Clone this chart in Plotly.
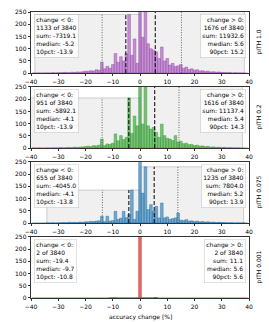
import plotly.graph_objects as go

# ---------------- data ----------------
bin_centers = list(range(-39, 40))

counts_p1 = ([1, 0, 1, 0, 1, 1, 0, 2, 1, 2] +
             [2, 3, 3, 2, 4, 3, 5, 4, 6, 8] +
             [8, 10, 9, 14, 12, 45, 18, 28, 20, 35] +
             [80, 45, 67, 50, 80, 240, 73, 140, 40] +
             [1031] +
             [147, 320, 120, 100, 94, 87, 60, 107, 50, 60] +
             [33, 40, 27, 30, 35, 20, 25, 15, 18, 12] +
             [14, 9, 10, 7, 8, 5, 6, 4, 5, 3] +
             [3, 2, 3, 1, 2, 1, 1, 1, 0])

counts_p2 = ([1, 0, 1, 0, 0, 1, 0, 1, 1, 1] +
             [2, 1, 2, 3, 2, 4, 3, 4, 5, 6] +
             [8, 6, 10, 9, 12, 37, 10, 17, 15, 20] +
             [58, 30, 51, 35, 44, 205, 60, 131, 91] +
             [1273] +
             [98, 300, 91, 78, 85, 64, 44, 98, 51, 40] +
             [37, 31, 51, 25, 28, 18, 20, 14, 15, 10] +
             [12, 8, 9, 6, 7, 4, 5, 3, 4, 2] +
             [3, 1, 2, 1, 1, 1, 0, 1, 0])

counts_p3 = ([0, 0, 0, 0, 0, 1, 0, 1, 0, 1] +
             [1, 2, 1, 3, 2, 3, 2, 4, 3, 5] +
             [5, 7, 6, 8, 9, 28, 6, 28, 8, 10] +
             [48, 15, 20, 48, 22, 35, 135, 15, 48] +
             [1950] +
             [122, 230, 55, 75, 48, 68, 21, 82, 21, 25] +
             [15, 18, 21, 41, 12, 10, 14, 8, 9, 6] +
             [8, 5, 6, 4, 5, 3, 4, 2, 3, 2] +
             [2, 1, 1, 1, 0, 1, 0, 1, 0])

counts_p4 = ([0] * 10 +
             [0] * 10 +
             [0] * 8 + [1, 0] +
             [1, 0, 0, 0, 0, 0, 0, 0, 0] +
             [3836] +
             [0, 0, 0, 0, 0, 2, 0, 0, 0, 0] +
             [0] * 10 + [0] * 10 + [0] * 9)

all_counts = [counts_p1, counts_p2, counts_p3, counts_p4]

pith_labels = ["pITH 1.0", "pITH 0.2", "pITH 0.075", "pITH 0.001"]
total_n = 3840
neg_counts = [1133, 951, 655, 2]
pos_counts = [1676, 1616, 1235, 2]
neg_sums = [-7319.1, -5892.1, -4045.0, -19.4]
pos_sums = [11932.6, 11137.4, 7804.0, 11.1]
neg_medians = [-5.2, -4.1, -4.1, -9.7]
pos_medians = [5.6, 5.4, 5.2, 5.6]
neg_p10 = [-13.9, -13.9, -13.8, -10.8]
pos_p90 = [15.2, 14.3, 13.9, 5.6]
neg_min = [-38.6, -41.0, -34.2, -10.8]
pos_max = [38.3, 37.6, 38.0, 5.6]

fill_colors = ["rgba(165,80,185,0.6)", "rgba(44,160,44,0.6)",
               "rgba(31,119,180,0.6)", "rgba(214,39,40,0.7)"]
edge_colors = ["rgba(150,70,175,0.85)", "rgba(44,150,44,0.85)",
               "rgba(31,110,170,0.85)", "rgba(214,39,40,0.9)"]

# ---------------- figure ----------------
W, H = 269, 322
ml, mr, mt, mb = 31, 20, 8, 24
ph = H - mt - mb
panel_h = 62
gap = 14

fig = go.Figure()
FONT = "DejaVu Sans, sans-serif"
shapes = []
annotations = []

for i in range(4):
    k = i + 1
    xa = "x" if k == 1 else f"x{k}"
    ya = "y" if k == 1 else f"y{k}"
    top_px = i * (panel_h + gap)
    d_top = 1 - top_px / ph
    d_bot = 1 - (top_px + panel_h) / ph
    counts = all_counts[i]
    fig.add_trace(go.Bar(
        x=bin_centers, y=counts, width=1.0,
        marker=dict(color=fill_colors[i], line=dict(color=edge_colors[i], width=0.5)),
        xaxis=xa, yaxis=ya, showlegend=False, hoverinfo="skip"))

    neg_h = max(c for c, b in zip(counts, bin_centers) if b < 0)
    pos_h = max(c for c, b in zip(counts, bin_centers) if b > 0)

    # grey range spans
    shapes.append(dict(type="rect", xref=xa, yref=ya, x0=neg_min[i], x1=0, y0=0, y1=neg_h,
                       fillcolor="rgba(0,0,0,0.06)", line=dict(color="rgba(0,0,0,0.22)", width=0.8),
                       layer="below"))
    shapes.append(dict(type="rect", xref=xa, yref=ya, x0=0, x1=pos_max[i], y0=0, y1=pos_h,
                       fillcolor="rgba(0,0,0,0.06)", line=dict(color="rgba(0,0,0,0.22)", width=0.8),
                       layer="below"))
    # medians
    for xv, hv in ((neg_medians[i], neg_h), (pos_medians[i], pos_h)):
        shapes.append(dict(type="line", xref=xa, yref=ya, x0=xv, x1=xv, y0=0, y1=hv,
                           line=dict(color="black", width=1, dash="4px,2px"), layer="above"))
    for xv, hv in ((neg_p10[i], neg_h), (pos_p90[i], pos_h)):
        shapes.append(dict(type="line", xref=xa, yref=ya, x0=xv, x1=xv, y0=0, y1=hv,
                           line=dict(color="#444", width=0.8, dash="1px,1.5px"), layer="above"))

    left_txt = (f"change < 0:<br>{neg_counts[i]} of {total_n}<br>sum: {neg_sums[i]:.1f}"
                f"<br>median: {neg_medians[i]:.1f}<br>10pct: {neg_p10[i]:.1f}")
    right_txt = (f"change > 0:<br>{pos_counts[i]} of {total_n}<br>sum: {pos_sums[i]:.1f}"
                 f"<br>median: {pos_medians[i]:.1f}<br>90pct: {pos_p90[i]:.1f}")
    annotations.append(dict(text=left_txt, xref="paper", yref="paper", x=0.015, y=d_top - 2 / ph,
                            xanchor="left", yanchor="top", align="left", showarrow=False,
                            font=dict(family=FONT, size=6, color="black"),
                            bgcolor="rgba(255,255,255,0.8)", bordercolor="rgba(0,0,0,0.15)",
                            borderwidth=0.8, borderpad=1.5))
    annotations.append(dict(text=right_txt, xref="paper", yref="paper", x=0.985, y=d_top - 2 / ph,
                            xanchor="right", yanchor="top", align="right", showarrow=False,
                            font=dict(family=FONT, size=6, color="black"),
                            bgcolor="rgba(255,255,255,0.8)", bordercolor="rgba(0,0,0,0.15)",
                            borderwidth=0.8, borderpad=1.5))
    annotations.append(dict(text=pith_labels[i], xref="paper", yref="paper", x=1, xshift=10,
                            y=(d_top + d_bot) / 2, xanchor="center", yanchor="middle",
                            textangle=-90, showarrow=False,
                            font=dict(family=FONT, size=6, color="black")))

    axis_common = dict(showline=True, mirror=True, linecolor="black", linewidth=0.8,
                       ticks="outside", ticklen=2.5, tickwidth=0.8, tickcolor="black",
                       showgrid=False, zeroline=False,
                       tickfont=dict(family=FONT, size=6, color="black"))
    xkey = "xaxis" if k == 1 else f"xaxis{k}"
    ykey = "yaxis" if k == 1 else f"yaxis{k}"
    fig.layout[xkey] = dict(domain=[0, 1], anchor=ya, range=[-40, 40],
                            tickvals=list(range(-40, 41, 10)), ticklabelstandoff=0, **axis_common)
    fig.layout[ykey] = dict(domain=[d_bot, d_top], anchor=xa, range=[0, 250],
                            tickvals=list(range(0, 251, 50)), **axis_common)

annotations.append(dict(text="accuracy change [%]", xref="paper", yref="paper", x=0.5, y=0,
                        yshift=-13, xanchor="center", yanchor="top", showarrow=False,
                        font=dict(family=FONT, size=6, color="black")))

fig.update_layout(width=W, height=H, margin=dict(l=ml, r=mr, t=mt, b=mb),
                  paper_bgcolor="white", plot_bgcolor="white", bargap=0,
                  shapes=shapes, annotations=annotations,
                  font=dict(family=FONT, size=6, color="black"))

fig.write_html("out.html",
               config={"displayModeBar": False, "staticPlot": True},
               post_script="document.body.style.margin='0';document.body.style.overflow='hidden';")
